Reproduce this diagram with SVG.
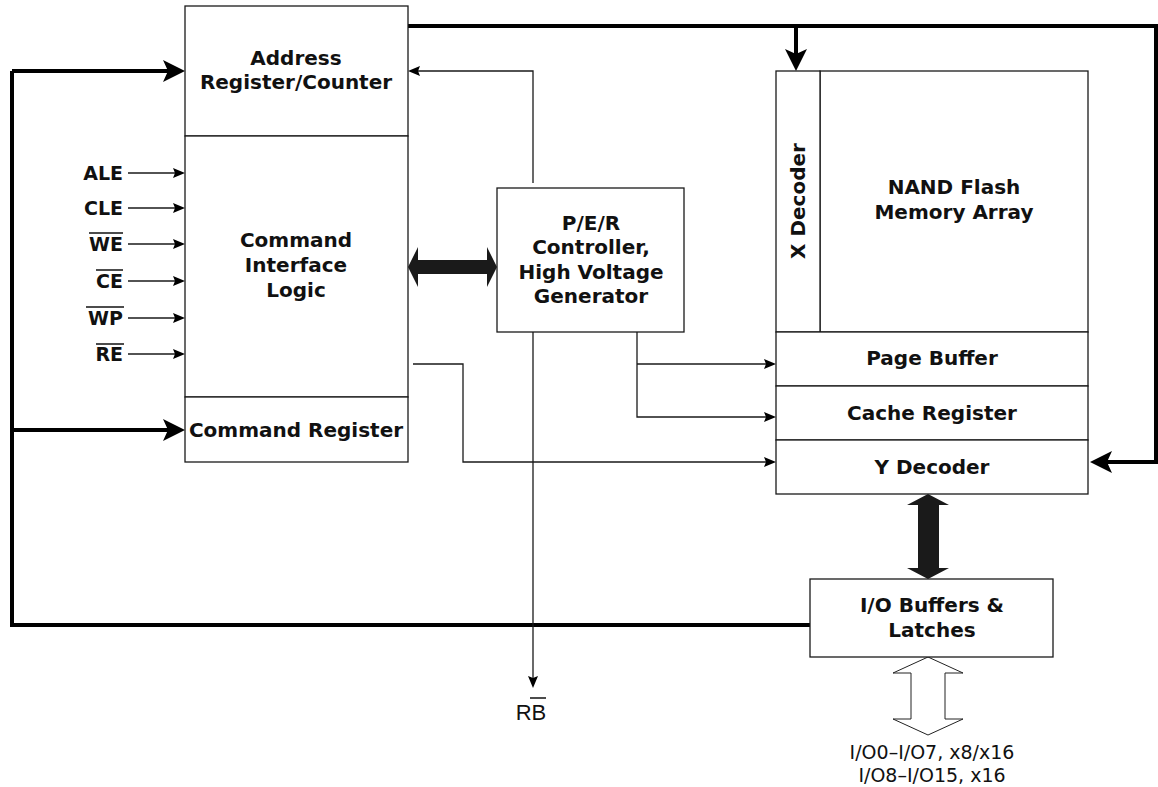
<svg xmlns="http://www.w3.org/2000/svg" width="1158" height="787" viewBox="0 0 1158 787">
<style>
.box{fill:#fff;stroke:#1a1a1a;stroke-width:1.3}
.t{font-family:"DejaVu Sans",Verdana,sans-serif;font-weight:bold;font-size:20px;fill:#111;text-anchor:middle}
.s{font-family:"DejaVu Sans",Verdana,sans-serif;font-weight:bold;font-size:19px;fill:#111;text-anchor:end}
.n{font-family:"DejaVu Sans",sans-serif;font-size:19px;fill:#111;text-anchor:middle}
.thin{fill:none;stroke:#1a1a1a;stroke-width:1.3;marker-end:url(#ah)}
.thick{fill:none;stroke:#000;stroke-width:4;marker-end:url(#AH)}
.thickn{fill:none;stroke:#000;stroke-width:4}
.ol{stroke:#111;stroke-width:1.5}
</style>
<defs>
<marker id="ah" viewBox="0 0 12 10" refX="6" refY="5" markerWidth="12" markerHeight="10" markerUnits="userSpaceOnUse" orient="auto">
<path d="M0,0 L12,5 L0,10 L2,5 z" fill="#000"/>
</marker>
<marker id="AH" viewBox="0 0 22 22" refX="10" refY="11" markerWidth="22" markerHeight="22" markerUnits="userSpaceOnUse" orient="auto">
<path d="M0,0 L22,11 L0,22 L5,11 z" fill="#000"/>
</marker>
</defs>

<g id="connectors">
<path class="thickn" d="M408,26 H1156 V462 H1102"/>
<path class="thick" d="M1156,462 H1102"/>
<path class="thick" d="M796,26 V59"/>
<path class="thickn" d="M810,625 H12 V71"/>
<path class="thick" d="M12,71 H173"/>
<path class="thick" d="M12,430 H173"/>
<path class="thin" d="M128,173 H179"/>
<path class="thin" d="M128,208 H179"/>
<path class="thin" d="M128,244 H179"/>
<path class="thin" d="M128,281 H179"/>
<path class="thin" d="M128,318 H179"/>
<path class="thin" d="M128,354 H179"/>
<path class="thin" d="M533,183 V71 H414"/>
<path class="thin" d="M533,332 V682"/>
<path class="thin" d="M637,332 V417 H770"/>
<path class="thin" d="M637,364 H770"/>
<path class="thin" d="M413,364 H463 V462 H770"/>
<polygon points="408,267 418,247 418,260 487,260 487,247 497,267 487,287 487,274 418,274 418,287" fill="#1a1a1a"/>
<polygon points="928,494 949,505 939,505 939,568 949,568 928,579 907,568 918,568 918,505 907,505" fill="#1a1a1a"/>
<polygon points="928,657 963,673 945,673 945,719 963,719 928,735 893,719 911,719 911,673 893,673" fill="#fff" stroke="#222" stroke-width="1"/>
</g>

<g id="addr-reg">
<rect class="box" x="185" y="6" width="223" height="130"/>
<text class="t" x="296" y="65">Address</text>
<text class="t" x="296" y="89">Register/Counter</text>
</g>
<g id="cmd-if">
<rect class="box" x="185" y="136" width="223" height="261"/>
<text class="t" x="296" y="247">Command</text>
<text class="t" x="296" y="272">Interface</text>
<text class="t" x="296" y="297">Logic</text>
</g>
<g id="cmd-reg">
<rect class="box" x="185" y="397" width="223" height="65"/>
<text class="t" x="296" y="437">Command Register</text>
</g>

<g id="signals">
<text class="s" x="123" y="180">ALE</text>
<text class="s" x="123" y="215">CLE</text>
<text class="s" x="123" y="251">WE</text>
<line class="ol" x1="89" y1="233" x2="123" y2="233"/>
<text class="s" x="123" y="288">CE</text>
<line class="ol" x1="96" y1="270" x2="123" y2="270"/>
<text class="s" x="123" y="325">WP</text>
<line class="ol" x1="86" y1="307" x2="124" y2="307"/>
<text class="s" x="123" y="361">RE</text>
<line class="ol" x1="96" y1="344" x2="124" y2="344"/>
</g>

<g id="per">
<rect class="box" x="497" y="188" width="187" height="144"/>
<text class="t" x="591" y="230">P/E/R</text>
<text class="t" x="591" y="254">Controller,</text>
<text class="t" x="591" y="279">High Voltage</text>
<text class="t" x="591" y="303">Generator</text>
</g>

<g id="nand-array">
<rect class="box" x="820" y="71" width="268" height="261"/>
<text class="t" x="954" y="194">NAND Flash</text>
<text class="t" x="954" y="219">Memory Array</text>
</g>
<g id="x-decoder">
<rect class="box" x="776" y="71" width="44" height="261"/>
<text class="t" transform="translate(805,201) rotate(-90)">X Decoder</text>
</g>
<g id="page-buffer">
<rect class="box" x="776" y="332" width="312" height="54"/>
<text class="t" x="932" y="365">Page Buffer</text>
</g>
<g id="cache-register">
<rect class="box" x="776" y="386" width="312" height="54"/>
<text class="t" x="932" y="420">Cache Register</text>
</g>
<g id="y-decoder">
<rect class="box" x="776" y="440" width="312" height="54"/>
<text class="t" x="932" y="474">Y Decoder</text>
</g>

<g id="io-buffers">
<rect class="box" x="810" y="579" width="243" height="78"/>
<text class="t" x="932" y="612">I/O Buffers &amp;</text>
<text class="t" x="932" y="637">Latches</text>
</g>

<g id="rb-label">
<text x="531" y="720" font-family="Liberation Sans,Arial,sans-serif" font-size="22" fill="#111" text-anchor="middle">RB</text>
<line class="ol" x1="530" y1="698" x2="546" y2="698"/>
</g>

<g id="io-label">
<text class="n" x="932" y="759">I/O0–I/O7, x8/x16</text>
<text class="n" x="932" y="782">I/O8–I/O15, x16</text>
</g>
</svg>
